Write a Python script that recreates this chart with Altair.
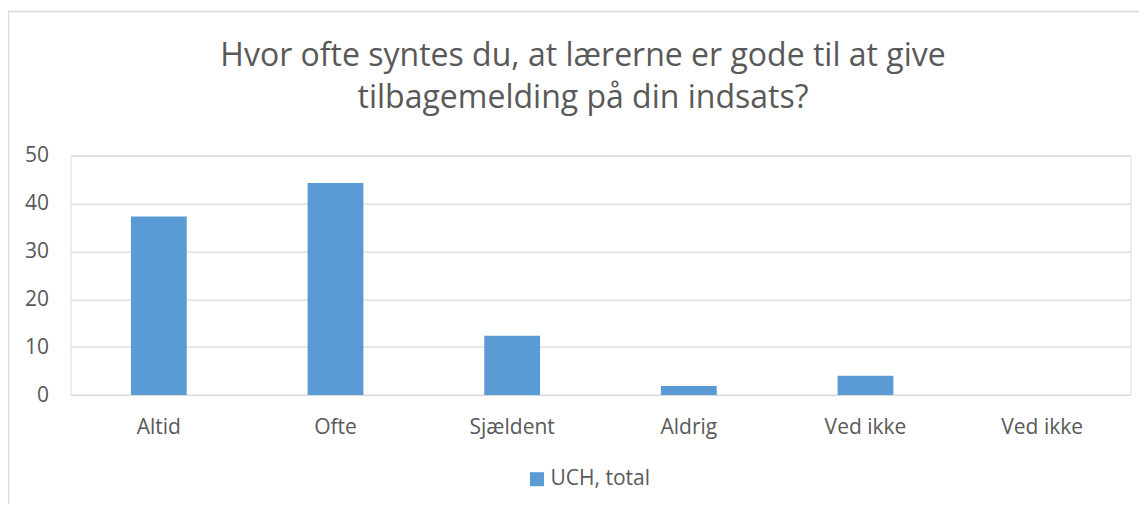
import json
import altair as alt
import pandas as pd

categories = ["Altid", "Ofte", "Sjældent", "Aldrig", "Ved ikke", "Ved ikke"]
values = [37.3, 44.3, 12.4, 1.9, 4.0, 0.0]
series_name = "UCH, total"
y_ticks = [0, 10, 20, 30, 40, 50]
title_lines = ["Hvor ofte syntes du, at lærerne er gode til at give",
               "tilbagemelding på din indsats?"]

df = pd.DataFrame({
    "idx": list(range(len(categories))),
    "value": values,
    "series": [series_name] * len(categories),
})

label_expr = json.dumps(categories, ensure_ascii=False) + "[datum.value]"

FONT = "Open Sans"
TEXT = "#595959"
GRID = "#d9d9d9"
BAR = "#5b9bd5"

W, H = 1060, 239.3

bars = alt.Chart(df).mark_bar(color=BAR).encode(
    x=alt.X("idx:O", title=None,
            scale=alt.Scale(paddingInner=0.684, paddingOuter=0.342),
            axis=alt.Axis(labelExpr=label_expr, labelAngle=0, domain=False,
                          ticks=False, labelPadding=21, labelFontSize=21,
                          labelColor=TEXT, labelFont=FONT)),
    y=alt.Y("value:Q", title=None,
            scale=alt.Scale(domain=[0, 50], nice=False),
            axis=alt.Axis(values=y_ticks, domain=False, ticks=False,
                          labelPadding=22, labelFontSize=21, labelColor=TEXT,
                          labelFont=FONT, gridColor=GRID, gridWidth=1.3)),
    color=alt.Color("series:N", title=None,
                    scale=alt.Scale(range=[BAR]),
                    legend=alt.Legend(orient="none", legendX=456, legendY=313,
                                      symbolType="square", symbolSize=196,
                                      symbolStrokeWidth=0, labelFontSize=21,
                                      labelColor=TEXT, labelFont=FONT,
                                      labelOffset=3)),
)

border = alt.Chart(alt.Data(values=[{"a": 1}])).mark_rect(
    filled=False, stroke=GRID, strokeWidth=1.5, clip=False
).encode(
    x=alt.value(-62), x2=alt.value(1100),
    y=alt.value(-144.2), y2=alt.value(400),
)

chart = alt.layer(border, bars).properties(
    width=W, height=H,
    title=alt.TitleParams(title_lines, anchor="middle", frame="group",
                          dx=-17.5, fontSize=32, font=FONT,
                          fontWeight="normal", color=TEXT,
                          lineHeight=42, offset=-104.5),
    autosize=alt.AutoSizeParams(type="none"),
    padding={"left": 62.5, "top": 147.7, "right": 8.5, "bottom": 109},
).configure_view(stroke=None).configure(background="white")

chart.save("out.html", embed_options={"renderer": "svg", "actions": False})
